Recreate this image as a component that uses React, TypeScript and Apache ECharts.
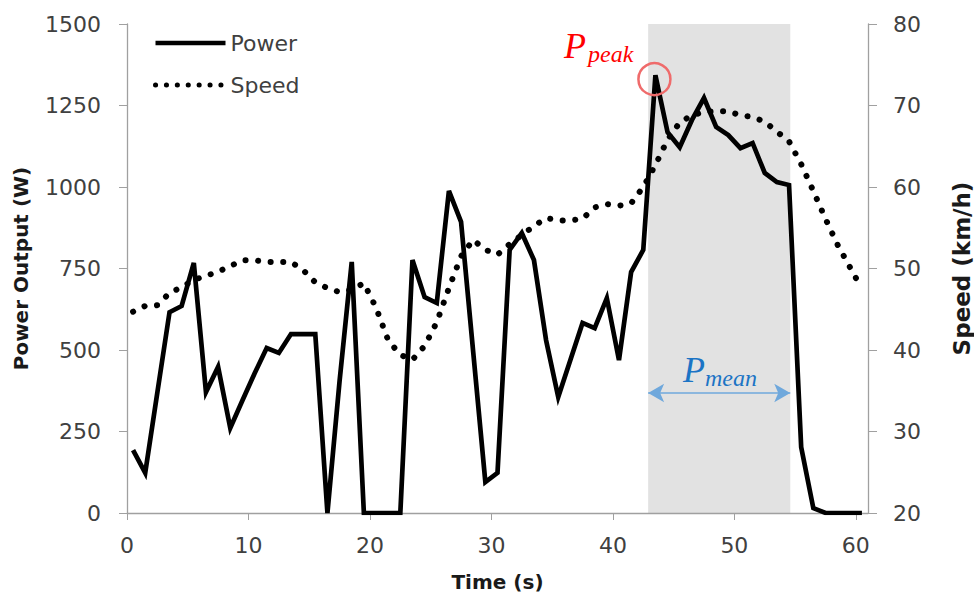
import React, { useEffect, useRef } from 'react';
import * as echarts from 'echarts';

const TIME = [0.5, 1.5, 2.5, 3.5, 4.5, 5.5, 6.5, 7.5, 8.5, 9.5, 10.5, 11.5, 12.5, 13.5, 14.5, 15.5, 16.5, 17.5, 18.5, 19.5,
  20.5, 21.5, 22.5, 23.5, 24.5, 25.5, 26.5, 27.5, 28.5, 29.5, 30.5, 31.5, 32.5, 33.5, 34.5, 35.5, 36.5, 37.5, 38.5, 39.5,
  40.5, 41.5, 42.5, 43.5, 44.5, 45.5, 46.5, 47.5, 48.5, 49.5, 50.5, 51.5, 52.5, 53.5, 54.5, 55.5, 56.5, 57.5, 58.5, 59.5, 60.5];

const POWER = [193, 123, 370, 616, 635, 767, 371, 448, 261, 345, 428, 506, 491, 549, 549, 549, 0, 405, 770, 0,
  0, 0, 0, 776, 662, 644, 988, 893, 494, 95, 123, 807, 859, 776, 530, 356, 469, 583, 567, 659,
  469, 739, 807, 1343, 1168, 1122, 1205, 1273, 1184, 1159, 1119, 1135, 1043, 1015, 1006, 202, 15, 0, 0, 0, 0];

const SPEED = [44.7, 45.4, 45.5, 47.0, 47.7, 48.6, 49.1, 49.6, 50.3, 51.0, 51.0, 50.8, 50.8, 50.8, 49.8, 48.3, 47.6, 47.1, 47.4, 48.2,
  45.2, 41.2, 39.4, 38.8, 40.5, 43.4, 47.6, 51.5, 53.5, 52.3, 51.7, 53.0, 54.1, 55.2, 56.2, 55.9, 55.9, 56.1, 57.5, 57.9,
  57.7, 58.0, 60.0, 62.7, 65.8, 67.9, 68.8, 69.2, 69.3, 69.3, 68.8, 68.6, 68.0, 66.8, 65.6, 62.8, 59.5, 56.1, 52.9, 50.2, 47.5];

const TIME_AXIS = { min: 0, max: 61, interval: 10 };
const POWER_AXIS = { min: 0, max: 1500, interval: 250 };
const SPEED_AXIS = { min: 20, max: 80, interval: 10 };

const SHADE_RANGE = [42.9, 54.6];
const ARROW_LEVEL = 368;
const PEAK_POINT = [43.5, 1343];

const FONT = 'DejaVu Sans';
const AXIS_GREY = '#a0a0a0';
const LABEL_COLOR = '#404040';

export default function App() {
  const ref = useRef<HTMLDivElement>(null);
  useEffect(() => {
    document.body.style.margin = '0';
    document.documentElement.style.overflow = 'hidden';
    const chart = echarts.init(ref.current!, null, { renderer: 'svg', width: 974, height: 596 });
    const powerData = TIME.map((t, i) => [t, POWER[i]]);
    const speedData = TIME.map((t, i) => [t, SPEED[i]]);
    const axisLabel = { fontSize: 22, color: LABEL_COLOR, fontFamily: FONT, formatter: (v: number) => String(v) };
    const nameStyle = { fontSize: 20, fontWeight: 'bold', color: '#1a1a1a', fontFamily: FONT };
    chart.setOption({
      animation: false,
      backgroundColor: '#ffffff',
      grid: { left: 127, right: 106, top: 24, bottom: 83, containLabel: false, outerBoundsMode: 'none' },
      legend: {
        data: [
          { name: 'Power', lineStyle: { width: 4.5, type: 'solid' } },
          { name: 'Speed', lineStyle: { width: 5, type: [0.1, 10.8], cap: 'round' } },
        ],
        orient: 'vertical',
        left: 148,
        top: 27,
        itemWidth: 70,
        itemHeight: 14,
        itemGap: 20,
        itemStyle: { opacity: 0 },
        textStyle: { fontSize: 22, color: LABEL_COLOR, fontFamily: FONT },
      },
      xAxis: {
        type: 'value',
        ...TIME_AXIS,
        axisLine: { show: true, onZero: false, lineStyle: { color: AXIS_GREY, width: 1.3 } },
        axisTick: { show: true, length: 7, lineStyle: { color: AXIS_GREY } },
        axisLabel: { ...axisLabel, margin: 21, showMaxLabel: false, formatter: (v: number) => (v % 10 === 0 ? String(v) : '') },
        splitLine: { show: false },
        name: 'Time (s)',
        nameLocation: 'middle',
        nameGap: 59,
        nameTextStyle: nameStyle,
      },
      yAxis: [
        {
          type: 'value',
          ...POWER_AXIS,
          position: 'left',
          axisLine: { show: true, lineStyle: { color: AXIS_GREY, width: 1.3 } },
          axisTick: { show: true, length: 8, lineStyle: { color: AXIS_GREY } },
          axisLabel: { ...axisLabel, margin: 26 },
          splitLine: { show: false },
          name: 'Power Output (W)',
          nameLocation: 'middle',
          nameRotate: 90,
          nameGap: 96,
          nameTextStyle: nameStyle,
        },
        {
          type: 'value',
          ...SPEED_AXIS,
          position: 'right',
          axisLine: { show: true, lineStyle: { color: AXIS_GREY, width: 1.3 } },
          axisTick: { show: true, length: 9, lineStyle: { color: AXIS_GREY } },
          axisLabel: { ...axisLabel, margin: 25 },
          splitLine: { show: false },
          name: 'Speed (km/h)',
          nameLocation: 'middle',
          nameRotate: 90,
          nameGap: 82,
          nameTextStyle: { ...nameStyle, fontSize: 23 },
        },
      ],
      series: [
        {
          name: 'Power',
          type: 'line',
          data: powerData,
          symbol: 'none',
          z: 3,
          itemStyle: { color: '#000' },
          lineStyle: { color: '#000', width: 4.7, join: 'miter' },
        },
        {
          name: 'Speed',
          type: 'line',
          yAxisIndex: 1,
          data: speedData,
          symbol: 'none',
          z: 2,
          itemStyle: { color: '#000' },
          lineStyle: { color: '#000', width: 6, type: [0.1, 12.5], cap: 'round' },
        },
        {
          name: 'shade',
          type: 'line',
          data: [],
          z: 5,
          silent: true,
          markArea: {
            silent: true,
            itemStyle: { color: 'rgba(150,150,150,0.28)', opacity: 1 },
            data: [[{ xAxis: SHADE_RANGE[0] }, { xAxis: SHADE_RANGE[1] }]],
          },
        },
        {
          name: 'arrow',
          type: 'line',
          data: [],
          z: 6,
          silent: true,
          markLine: {
            silent: true,
            symbol: ['arrow', 'arrow'],
            symbolSize: [14, 16],
            label: { show: false },
            lineStyle: { color: '#6fa8dc', width: 1.5, type: 'solid' },
            data: [[{ coord: [SHADE_RANGE[0], ARROW_LEVEL] }, { coord: [SHADE_RANGE[1], ARROW_LEVEL] }]],
          },
        },
        {
          name: 'peak',
          type: 'line',
          data: [],
          z: 7,
          silent: true,
          markPoint: {
            silent: true,
            symbol: 'circle',
            symbolSize: 32,
            symbolOffset: [-1, 4],
            label: { show: false },
            itemStyle: { color: 'rgba(0,0,0,0)', borderColor: '#ef6b6b', borderWidth: 2.5 },
            data: [{ coord: PEAK_POINT }],
          },
        },
      ],
      graphic: [
        { type: 'text', x: 564, y: 46, z: 10, style: { text: 'P', font: 'italic 36px "Liberation Serif"', fill: '#ff0000', verticalAlign: 'middle', align: 'left' } },
        { type: 'text', x: 588, y: 54, z: 10, style: { text: 'peak', font: 'italic 24px "Liberation Serif"', fill: '#ff0000', verticalAlign: 'middle', align: 'left' } },
        { type: 'text', x: 683, y: 370, z: 10, style: { text: 'P', font: 'italic 36px "Liberation Serif"', fill: '#1b74c5', verticalAlign: 'middle', align: 'left' } },
        { type: 'text', x: 705, y: 378, z: 10, style: { text: 'mean', font: 'italic 24px "Liberation Serif"', fill: '#1b74c5', verticalAlign: 'middle', align: 'left' } },
      ],
    });
    return () => chart.dispose();
  }, []);
  return <div ref={ref} style={{ position: 'fixed', left: 0, top: 0, width: 974, height: 596 }} />;
}
